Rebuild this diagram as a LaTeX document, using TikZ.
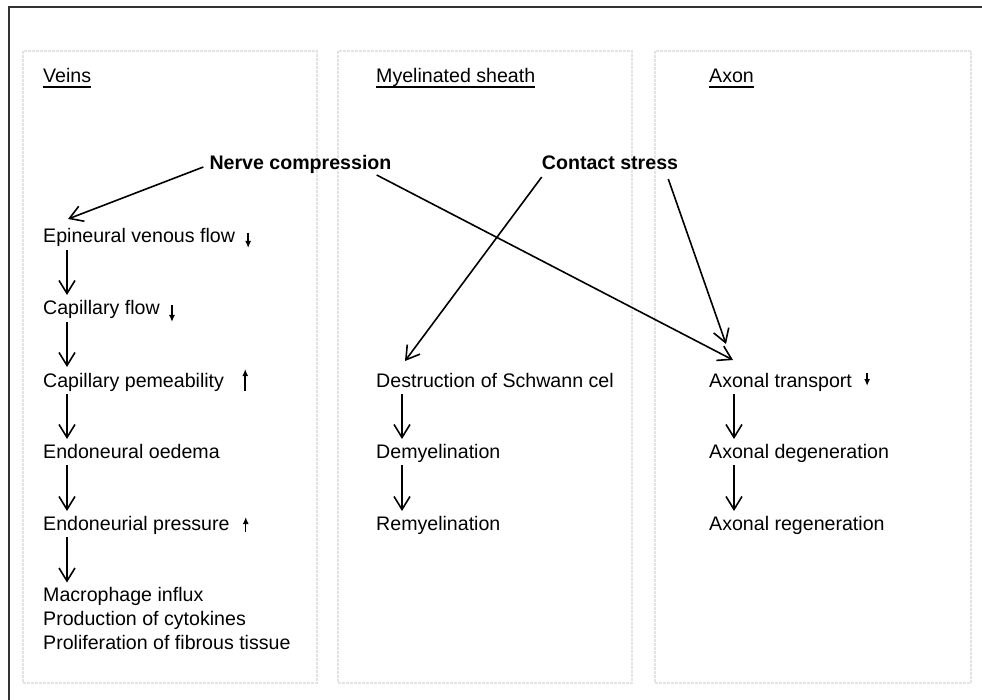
\documentclass[tikz,border=0pt]{standalone}
\usepackage{fontspec}
\setmainfont{Liberation Sans}
\usetikzlibrary{arrows.meta,calc}
\newcommand\myul[1]{\setbox0\hbox{#1}\rlap{\rule[-5pt]{\wd0}{2.2pt}}\box0}
\begin{document}
\begin{tikzpicture}[x=1pt,y=-1pt,
  txt/.style={inner sep=0pt, anchor=base west, font=\fontsize{19.6pt}{24pt}\selectfont},
  boldtxt/.style={inner sep=0pt, anchor=base, font=\fontsize{19.6pt}{24pt}\selectfont\bfseries},
  panel/.style={draw=black!11, line width=1.3pt, dash pattern=on 3pt off 1pt},
  arr/.style={line width=1.6pt, -{Straight Barb[length=13pt,width=16pt,line width=1.6pt]}},
  small/.style={line width=1.5pt, -{Latex[length=7pt,width=6pt]}}]
\useasboundingbox (0,0) rectangle (982,700);
\draw[line width=2.2pt, black!80] (9,700) -- (9,7) -- (982,7);
\draw[panel] (23,51) rectangle (317,683);
\draw[panel] (338,51) rectangle (632,683);
\draw[panel] (655,51) rectangle (971,683);
% titles
\node[txt] (tv) at (43,83) {\myul{Veins}};
\node[txt] (tm) at (376,83) {\myul{Myelinated sheath}};
\node[txt] (ta) at (709,83) {\myul{Axon}};
% causes
\node[boldtxt] (nc) at (300.5,170) {Nerve compression};
\node[boldtxt] (cs) at (610,170) {Contact stress};
% veins column
\node[txt] (epi) at (43,243) {Epineural venous flow};
\node[txt] (cap) at (43,315) {Capillary flow};
\node[txt] (perm) at (43,387) {Capillary pemeability};
\node[txt] (oed) at (43,458) {Endoneural oedema};
\node[txt] (pres) at (43,530) {Endoneurial pressure};
\node[txt, anchor=north west, align=left] (macro) at (43,587.5) {Macrophage influx\\Production of cytokines\\Proliferation of fibrous tissue};
% myelin column
\node[txt] (schw) at (376,387) {Destruction of Schwann cel};
\node[txt] (demy) at (376,458) {Demyelination};
\node[txt] (remy) at (376,530) {Remyelination};
% axon column
\node[txt] (atr) at (709,387) {Axonal transport};
\node[txt] (adeg) at (709,458) {Axonal degeneration};
\node[txt] (areg) at (709,530) {Axonal regeneration};
% small indicator arrows
\draw[small] ($(epi.base east)+(13,-10)$) -- ($(epi.base east)+(13,5)$);
\draw[small] ($(cap.base east)+(12,-10)$) -- ($(cap.base east)+(12,7)$);
\draw[small] ($(perm.base east)+(21,4)$) -- ($(perm.base east)+(21,-18)$);
\draw[small] ($(pres.base east)+(16,2)$) -- ($(pres.base east)+(16,-13)$);
\draw[small] ($(atr.base east)+(15,-14)$) -- ($(atr.base east)+(15,-1)$);
% diagonal arrows
\draw[arr] ($(nc.base west)+(-6,-3)$) -- ($(epi.base west)+(25,-24)$);
\draw[arr] ($(nc.base east)+(-15,5)$) -- ($(atr.base west)+(24,-27)$);
\draw[arr] ($(cs.base west)+(0,7)$) -- ($(schw.base west)+(29,-26)$);
\draw[arr] ($(cs.base east)+(-10,9)$) -- ($(atr.base west)+(17,-43)$);
% vertical arrows veins
\draw[arr] ($(epi.base west)+(24,7)$) -- ($(cap.base west)+(24,-20)$);
\draw[arr] ($(cap.base west)+(24,7)$) -- ($(perm.base west)+(24,-20)$);
\draw[arr] ($(perm.base west)+(24,7)$) -- ($(oed.base west)+(24,-19)$);
\draw[arr] ($(oed.base west)+(24,7)$) -- ($(pres.base west)+(24,-19)$);
\draw[arr] ($(pres.base west)+(24,7)$) -- ($(macro.north west)+(24,-5)$);
% vertical arrows myelin
\draw[arr] ($(schw.base west)+(26,7)$) -- ($(demy.base west)+(26,-19)$);
\draw[arr] ($(demy.base west)+(26,7)$) -- ($(remy.base west)+(26,-19)$);
% vertical arrows axon
\draw[arr] ($(atr.base west)+(25,7)$) -- ($(adeg.base west)+(25,-19)$);
\draw[arr] ($(adeg.base west)+(25,7)$) -- ($(areg.base west)+(25,-19)$);
\end{tikzpicture}
\end{document}
